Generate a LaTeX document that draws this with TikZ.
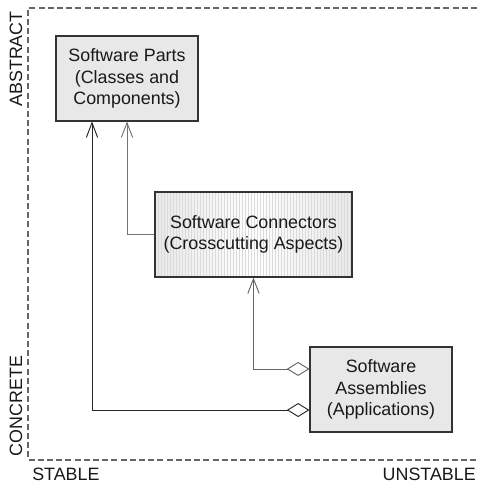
\documentclass[tikz,border=0pt]{standalone}
\usepackage{fontspec}
\setmainfont{Liberation Sans}
\usetikzlibrary{arrows.meta}
\begin{document}
\begin{tikzpicture}[x=0.75pt, y=-0.75pt,
  every node/.style={font=\fontsize{13.4}{16.1}\selectfont, text=black!90},
  box/.style={draw=black!80, line width=0.8pt, align=center, inner sep=0pt,
    minimum height=63.75pt},
  plainbox/.style={box, fill=black!9, minimum width=106.5pt},
  stripedbox/.style={box, minimum width=147.75pt,
    path picture={
      \shade[left color=black!9, right color=black!9, middle color=white]
        (path picture bounding box.south west) rectangle (path picture bounding box.north east);
      \foreach \i in {3,6,...,195}
        \draw[black!14, line width=0.35pt]
          ([xshift=\i*0.75pt]path picture bounding box.south west) --
          ([xshift=\i*0.75pt]path picture bounding box.north west);
    }},
  frame/.style={black!60, line width=1.1pt, dash pattern=on 4.5pt off 2.4pt},
  link/.style={line width=0.7pt},
  vtip/.tip={Straight Barb[length=11pt, width=8.5pt, line width=0.7pt]},
  dtip/.tip={Diamond[open, length=17pt, width=10.5pt, line width=0.7pt]},
  barb/.style={-vtip},
  agg/.style={dtip-vtip},
  axislabel/.style={inner sep=0pt}
]
\useasboundingbox (0,0) rectangle (477,484);

% quadrant frame
\draw[frame] (477,8) -- (28,8) -- (28,460) -- (477,460);

% axis labels
\node[axislabel, rotate=90] (abstract) at (16,59) {ABSTRACT};
\node[axislabel, rotate=90] (concrete) at (16,406) {CONCRETE};
\node[axislabel, anchor=west] (stable) at (32,474) {STABLE};
\node[axislabel, anchor=east] (unstable) at (476,474) {UNSTABLE};

% the three kinds of software
\node[plainbox] (parts) at (127,78.5) {Software Parts\\(Classes and\\Components)};
\node[stripedbox] (conn) at (253.5,234.5) {Software Connectors\\(Crosscutting Aspects)};
\node[plainbox] (asm) at (381,389.5) {Software\\Assemblies\\(Applications)};

% dependencies
\draw[link, barb, black!55] (conn.west) -| (parts.south);
\draw[link, agg, black!60] ([yshift=15.4pt]asm.west) -| (conn.south);
\draw[link, agg, black!85] ([yshift=-15.4pt]asm.west) -| ([xshift=-26.25pt]parts.south);
\end{tikzpicture}
\end{document}
